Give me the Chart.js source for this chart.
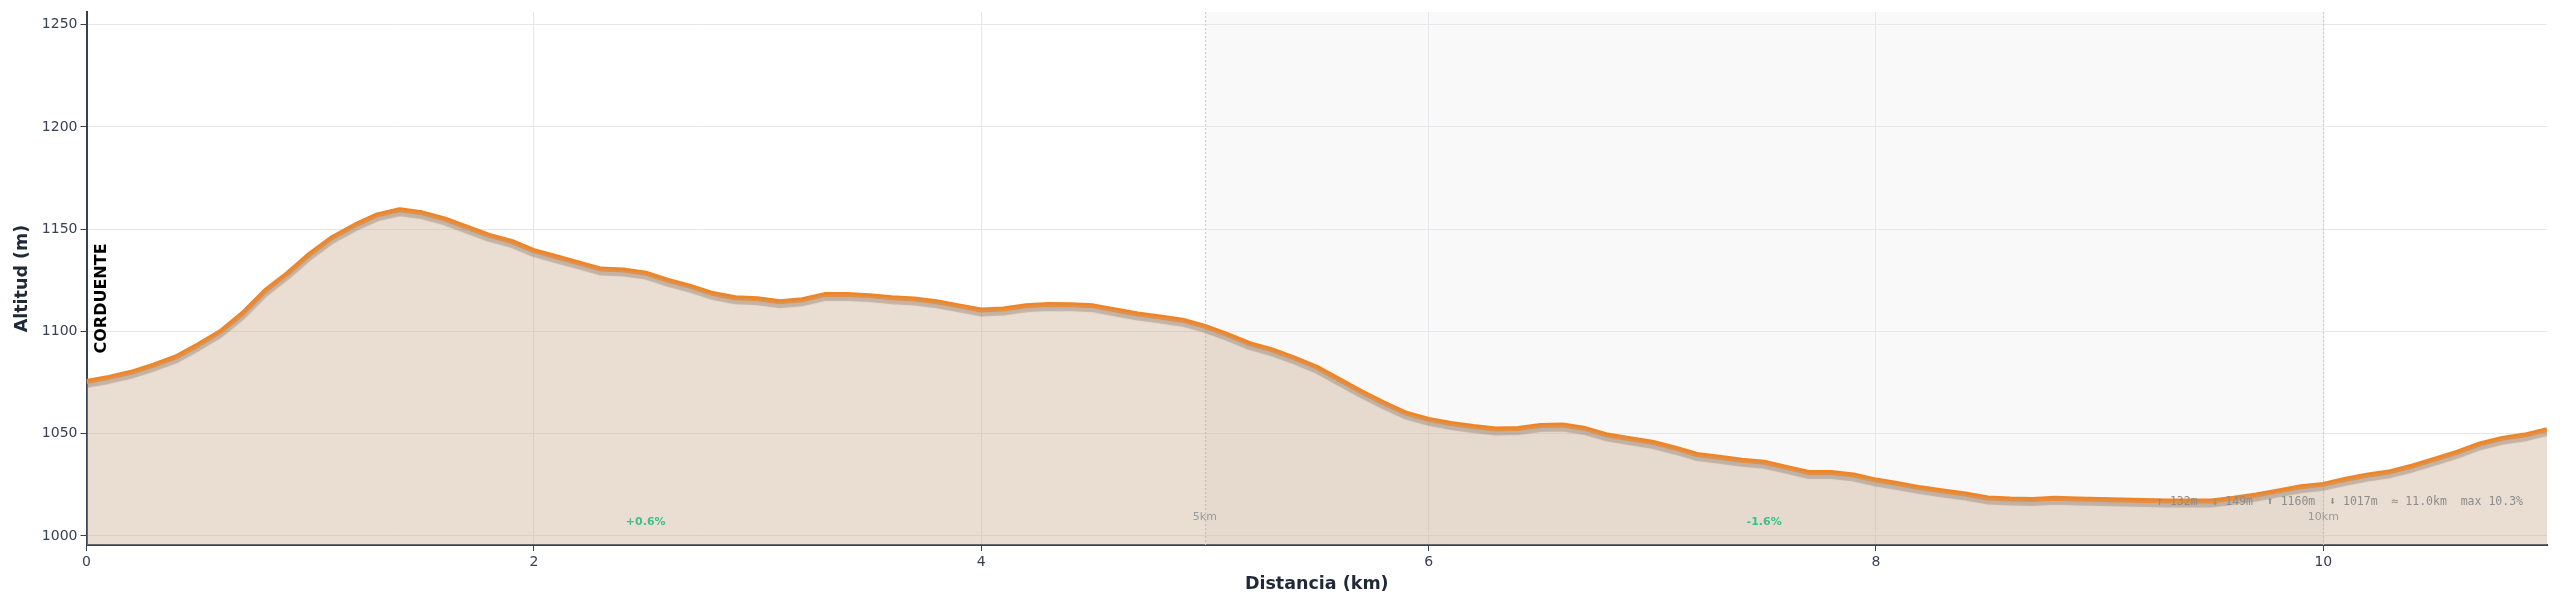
<!DOCTYPE html>
<html lang="es">
<head>
<meta charset="utf-8">
<title>Perfil de altitud</title>
<script src="https://cdn.jsdelivr.net/npm/chart.js"></script>
<style>
  body { margin: 0; background: #fff; }
  #wrap { width: 2560px; height: 608px; }
</style>
</head>
<body>
<div id="wrap"><canvas id="perfil" width="2560" height="608"></canvas></div>
<script>
const distKm = [
  0.0, 0.1, 0.2, 0.3, 0.4, 0.5, 0.6, 0.7, 0.8, 0.9,
  1.0, 1.1, 1.2, 1.3, 1.4, 1.5, 1.6, 1.7, 1.8, 1.9,
  2.0, 2.1, 2.2, 2.3, 2.4, 2.5, 2.6, 2.7, 2.8, 2.9,
  3.0, 3.1, 3.2, 3.3, 3.4, 3.5, 3.6, 3.7, 3.8, 3.9,
  4.0, 4.1, 4.2, 4.3, 4.4, 4.5, 4.6, 4.7, 4.8, 4.9,
  5.0, 5.1, 5.2, 5.3, 5.4, 5.5, 5.6, 5.7, 5.8, 5.9,
  6.0, 6.1, 6.2, 6.3, 6.4, 6.5, 6.6, 6.7, 6.8, 6.9,
  7.0, 7.1, 7.2, 7.3, 7.4, 7.5, 7.6, 7.7, 7.8, 7.9,
  8.0, 8.1, 8.2, 8.3, 8.4, 8.5, 8.6, 8.7, 8.8, 8.9,
  9.0, 9.1, 9.2, 9.3, 9.4, 9.5, 9.6, 9.7, 9.8, 9.9,
  10.0, 10.1, 10.2, 10.3, 10.4, 10.5, 10.6, 10.7, 10.8, 10.9,
  11.0
];
const altitud = [
  1075.5, 1077.5, 1080, 1083.5, 1087.5, 1093.5, 1100, 1109, 1120, 1128.5,
  1138, 1146, 1152, 1157, 1159.5, 1158, 1155, 1151, 1147, 1144,
  1139.5, 1136.5, 1133.5, 1130.5, 1130, 1128.5, 1125, 1122, 1118.5, 1116.5,
  1116, 1114.5, 1115.5, 1118, 1118, 1117.5, 1116.5, 1115.8, 1114.5, 1112.5,
  1110.5, 1111, 1112.5, 1113.2, 1113, 1112.5, 1110.5, 1108.5, 1107, 1105.5,
  1102.5, 1098.5, 1094, 1091, 1087, 1082.5, 1076.5, 1070.5, 1065, 1060,
  1057, 1055, 1053.5, 1052.3, 1052.5, 1054, 1054.2, 1052.5, 1049.3, 1047.5,
  1045.8, 1043, 1039.8, 1038.5, 1037, 1036, 1033.5, 1031, 1031, 1029.8,
  1027.3, 1025.5, 1023.5, 1022, 1020.5, 1018.5, 1018, 1017.8, 1018.4, 1018.1,
  1017.8, 1017.6, 1017.3, 1017.1, 1017.1, 1017.1, 1018.4, 1020, 1022, 1024,
  1025.2, 1027.7, 1029.8, 1031.4, 1034.2, 1037.5, 1041, 1045, 1047.7, 1049.3,
  1052
];

// marcas cada 5 km y pendiente media de cada tramo
const kmMarks = [5, 10];
const kmMarkLabels = ['5km', '10km'];
const gradeAt = [2.5, 7.5];
const gradeLabels = ['+0.6%', '-1.6%'];
const bandFrom = [5];
const bandTo = [10];
const statsText = '\u2191 132m  \u2193 149m  \u2B06 1160m  \u2B07 1017m  \u2248 11.0km  max 10.3%';
const startName = 'CORDUENTE';

const pts = distKm.map((d, i) => ({ x: d, y: altitud[i] }));

const AXIS = '#374151';
const GRID = '#e5e7eb';

const bandPlugin = {
  id: 'band',
  beforeDraw(chart) {
    const { ctx, chartArea: a, scales: { x } } = chart;
    ctx.save();
    ctx.fillStyle = '#f9f9fa';
    bandFrom.forEach((f, i) => {
      const x0 = x.getPixelForValue(f), x1 = x.getPixelForValue(bandTo[i]);
      ctx.fillRect(x0, a.top, x1 - x0, a.bottom - a.top);
    });
    ctx.restore();
  },
  beforeDatasetsDraw(chart) {
    const { ctx, chartArea: a, scales: { x } } = chart;
    ctx.save();
    ctx.strokeStyle = '#cfd0d4';
    ctx.lineWidth = 1.2;
    ctx.setLineDash([2, 2]);
    kmMarks.forEach(k => {
      const px = Math.round(x.getPixelForValue(k)) + 0.5;
      ctx.beginPath();
      ctx.moveTo(px, a.top);
      ctx.lineTo(px, a.bottom);
      ctx.stroke();
    });
    ctx.restore();
  }
};

const shadowPlugin = {
  id: 'lineShadow',
  beforeDatasetDraw(chart, args) {
    if (args.index !== 1) return;
    const ctx = chart.ctx;
    ctx.save();
    ctx.shadowColor = 'rgba(90, 70, 60, 0.36)';
    ctx.shadowOffsetY = 4;
    ctx.shadowBlur = 1;
  },
  afterDatasetDraw(chart, args) {
    if (args.index !== 1) return;
    chart.ctx.restore();
  }
};

const labelsPlugin = {
  id: 'perfilLabels',
  afterDatasetsDraw(chart) {
    const { ctx, chartArea: a, scales: { x, y } } = chart;
    ctx.save();
    // marcas km
    ctx.fillStyle = '#9a9a9a';
    ctx.font = '11px "DejaVu Sans"';
    ctx.textAlign = 'center';
    ctx.textBaseline = 'middle';
    kmMarks.forEach((k, i) => {
      ctx.fillText(kmMarkLabels[i], x.getPixelForValue(k), 517);
    });
    // pendientes
    ctx.fillStyle = '#3dbf87';
    ctx.font = 'bold 11px "DejaVu Sans"';
    gradeAt.forEach((k, i) => {
      ctx.fillText(gradeLabels[i], x.getPixelForValue(k), 522);
    });
    // resumen
    ctx.fillStyle = '#8c8c8c';
    ctx.font = '11.5px "DejaVu Sans Mono"';
    ctx.textAlign = 'right';
    ctx.fillText(statsText, a.right - 24, 502);
    // nombre de salida
    ctx.fillStyle = '#000';
    ctx.font = 'bold 16px "DejaVu Sans"';
    ctx.translate(a.left + 15, y.getPixelForValue(altitud[0]) - 28);
    ctx.rotate(-Math.PI / 2);
    ctx.textAlign = 'left';
    ctx.fillText(startName, 0, 0);
    ctx.restore();
  }
};

new Chart(document.getElementById('perfil'), {
  type: 'line',
  data: {
    datasets: [
      {
        data: pts,
        borderWidth: 0,
        pointRadius: 0,
        fill: 'start',
        backgroundColor: 'rgba(198, 165, 132, 0.37)',
        tension: 0
      },
      {
        data: pts,
        borderColor: '#ee8529',
        borderWidth: 5,
        borderJoinStyle: 'round',
        pointRadius: 0,
        fill: false,
        tension: 0
      }
    ]
  },
  options: {
    responsive: false,
    animation: false,
    layout: { padding: { top: 12, right: 13, left: 0, bottom: 0 } },
    plugins: { legend: { display: false }, tooltip: { enabled: false } },
    scales: {
      x: {
        type: 'linear',
        min: 0,
        max: 11,
        afterFit(s) { s.height = 63; },
        ticks: { stepSize: 2, includeBounds: false, color: AXIS, font: { family: 'DejaVu Sans', size: 14 }, padding: 3, maxRotation: 0 },
        grid: { color: GRID, tickColor: AXIS, tickLength: 6 },
        border: { color: AXIS, width: 2 },
        title: { display: true, text: 'Distancia (km)', color: '#1f2937', font: { family: 'DejaVu Sans', size: 17.5, weight: 'bold' }, padding: { top: 0, bottom: 13 } }
      },
      y: {
        min: 995.55,
        max: 1256.2,
        afterFit(s) { s.width = 86.5; },
        ticks: { stepSize: 50, includeBounds: false, color: AXIS, font: { family: 'DejaVu Sans', size: 14 }, padding: 3, callback: v => String(v) },
        grid: { color: GRID, tickColor: AXIS, tickLength: 6 },
        border: { color: AXIS, width: 2 },
        title: { display: true, text: 'Altitud (m)', color: '#1f2937', font: { family: 'DejaVu Sans', size: 17.5, weight: 'bold' }, padding: { top: 12, bottom: 0 } }
      }
    }
  },
  plugins: [bandPlugin, shadowPlugin, labelsPlugin]
});
</script>
</body>
</html>
